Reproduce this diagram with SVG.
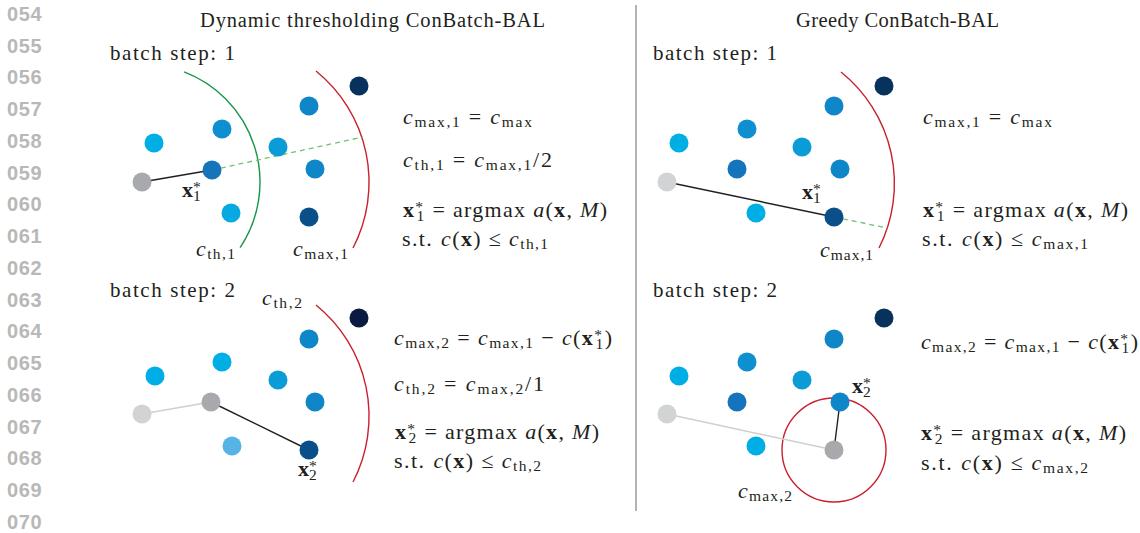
<svg xmlns="http://www.w3.org/2000/svg" width="1140" height="533" viewBox="0 0 1140 533">
<style>
.ln{font-family:"Liberation Sans",Arial,sans-serif;font-weight:bold;font-size:20px;fill:#b8b8b8}
.t{font-family:"Liberation Serif","Times New Roman",serif;font-size:22px;fill:#231f20}
.ti{font-size:20.5px}
.bs{font-size:21px}
.i{font-style:italic}
.b{font-weight:bold}
.s{font-size:15.5px}
.dot{stroke:none}
.red{fill:none;stroke:#c8202f;stroke-width:1.4}
.grn{fill:none;stroke:#17954a;stroke-width:1.4}
.dash{stroke:#6cc46c;stroke-width:1.3;stroke-dasharray:5 4;fill:none}
.blk{stroke:#231f20;stroke-width:1.4}
.lg{stroke:#cfcfcf;stroke-width:1.4}
.div{stroke:#9a9a9a;stroke-width:1.5}
</style>
<rect width="1140" height="533" fill="#ffffff"/>
<g id="line-numbers">
<text class="ln" x="7" y="20.7" textLength="34.5">054</text>
<text class="ln" x="7" y="52.5" textLength="34.5">055</text>
<text class="ln" x="7" y="84.2" textLength="34.5">056</text>
<text class="ln" x="7" y="116" textLength="34.5">057</text>
<text class="ln" x="7" y="147.7" textLength="34.5">058</text>
<text class="ln" x="7" y="179.5" textLength="34.5">059</text>
<text class="ln" x="7" y="211.2" textLength="34.5">060</text>
<text class="ln" x="7" y="243" textLength="34.5">061</text>
<text class="ln" x="7" y="274.7" textLength="34.5">062</text>
<text class="ln" x="7" y="306.5" textLength="34.5">063</text>
<text class="ln" x="7" y="338.2" textLength="34.5">064</text>
<text class="ln" x="7" y="370" textLength="34.5">065</text>
<text class="ln" x="7" y="401.7" textLength="34.5">066</text>
<text class="ln" x="7" y="433.5" textLength="34.5">067</text>
<text class="ln" x="7" y="465.2" textLength="34.5">068</text>
<text class="ln" x="7" y="497" textLength="34.5">069</text>
<text class="ln" x="7" y="528.7" textLength="34.5">070</text>
</g>
<line class="div" x1="636" y1="5" x2="636" y2="511"/>
<g id="titles">
<text class="t ti" x="200" y="27" textLength="345">Dynamic thresholding ConBatch-BAL</text>
<text class="t ti" x="796" y="27" textLength="203">Greedy ConBatch-BAL</text>
<text class="t bs" x="110" y="60" textLength="125">batch step: 1</text>
<text class="t bs" x="653" y="60" textLength="124">batch step: 1</text>
<text class="t bs" x="110" y="297" textLength="125">batch step: 2</text>
<text class="t bs" x="653" y="297" textLength="124">batch step: 2</text>
</g>
<g id="cost-boundaries">
<path class="grn" d="M184.1,71.8 A118,118 0 0 1 240.1,247.6"/>
<path class="red" d="M316,71 A143,143 0 0 1 353,248"/>
<path class="red" d="M316,305 A143,143 0 0 1 353,482"/>
<path class="red" d="M841,72 A143,143 0 0 1 879,248"/>
<circle class="red" cx="834" cy="450" r="52"/>
</g>
<g id="connectors">
<line class="dash" x1="212" y1="170" x2="363" y2="137"/>
<line class="blk" x1="142" y1="182" x2="212" y2="170"/>
<line class="lg" x1="142" y1="414" x2="211" y2="402"/>
<line class="blk" x1="211" y1="402" x2="309" y2="450"/>
<line class="dash" x1="834" y1="217" x2="887" y2="228"/>
<line class="blk" x1="667" y1="182" x2="834" y2="217"/>
<line class="lg" x1="667" y1="414" x2="834" y2="450"/>
<line class="blk" x1="834" y1="450" x2="840" y2="402"/>
</g>
<g id="panel-dynamic-step1">
<circle id="tl-start" class="dot" cx="142" cy="182" r="9.5" fill="#a7a9ac"/>
<circle id="tl-p1" class="dot" cx="154" cy="143" r="9.5" fill="#00aee6"/>
<circle id="tl-p2" class="dot" cx="222" cy="129" r="9.5" fill="#0e8fcf"/>
<circle id="tl-x1" class="dot" cx="212" cy="170" r="9.5" fill="#1574bb"/>
<circle id="tl-p4" class="dot" cx="231" cy="213" r="9.5" fill="#06a9e2"/>
<circle id="tl-p5" class="dot" cx="278" cy="147" r="9.5" fill="#0b9bd6"/>
<circle id="tl-p6" class="dot" cx="309" cy="106" r="9.5" fill="#0e86c8"/>
<circle id="tl-p7" class="dot" cx="315" cy="169" r="9.5" fill="#0e86c8"/>
<circle id="tl-p8" class="dot" cx="309" cy="217" r="9.5" fill="#0b4f8a"/>
<circle id="tl-p9" class="dot" cx="359" cy="86" r="9.5" fill="#07325e"/>
</g>
<g id="panel-dynamic-step2">
<circle id="bl-start" class="dot" cx="142" cy="414" r="9.5" fill="#d1d3d4"/>
<circle id="bl-x1" class="dot" cx="211" cy="402" r="9.5" fill="#a7a9ac"/>
<circle id="bl-p1" class="dot" cx="155" cy="376" r="9.5" fill="#00aee6"/>
<circle id="bl-p2" class="dot" cx="222" cy="362" r="9.5" fill="#00aee6"/>
<circle id="bl-p5" class="dot" cx="278" cy="380" r="9.5" fill="#0b9bd6"/>
<circle id="bl-p6" class="dot" cx="309" cy="339" r="9.5" fill="#0e86c8"/>
<circle id="bl-p7" class="dot" cx="315" cy="402" r="9.5" fill="#0e86c8"/>
<circle id="bl-p4" class="dot" cx="232" cy="446" r="9.5" fill="#55b3e6"/>
<circle id="bl-x2" class="dot" cx="309" cy="450" r="9.5" fill="#0b4f8a"/>
<circle id="bl-p9" class="dot" cx="359" cy="318" r="9.5" fill="#0a1a40"/>
</g>
<g id="panel-greedy-step1">
<circle id="tr-start" class="dot" cx="667" cy="182" r="9.5" fill="#d1d3d4"/>
<circle id="tr-p1" class="dot" cx="679" cy="143" r="9.5" fill="#00aee6"/>
<circle id="tr-p2" class="dot" cx="747" cy="129" r="9.5" fill="#0e8fcf"/>
<circle id="tr-p3" class="dot" cx="737" cy="169" r="9.5" fill="#1574bb"/>
<circle id="tr-p4" class="dot" cx="756" cy="213" r="9.5" fill="#00aee6"/>
<circle id="tr-p5" class="dot" cx="802" cy="147" r="9.5" fill="#0b9bd6"/>
<circle id="tr-p6" class="dot" cx="834" cy="106" r="9.5" fill="#0e86c8"/>
<circle id="tr-p7" class="dot" cx="840" cy="169" r="9.5" fill="#0e86c8"/>
<circle id="tr-x1" class="dot" cx="834" cy="217" r="9.5" fill="#0b4f8a"/>
<circle id="tr-p9" class="dot" cx="884" cy="86" r="9.5" fill="#07325e"/>
</g>
<g id="panel-greedy-step2">
<circle id="br-start" class="dot" cx="667" cy="414" r="9.5" fill="#d1d3d4"/>
<circle id="br-p1" class="dot" cx="679" cy="376" r="9.5" fill="#00aee6"/>
<circle id="br-p2" class="dot" cx="747" cy="362" r="9.5" fill="#0e8fcf"/>
<circle id="br-p3" class="dot" cx="737" cy="402" r="9.5" fill="#1574bb"/>
<circle id="br-p4" class="dot" cx="756" cy="446" r="9.5" fill="#00aee6"/>
<circle id="br-p5" class="dot" cx="802" cy="380" r="9.5" fill="#0b9bd6"/>
<circle id="br-p6" class="dot" cx="834" cy="339" r="9.5" fill="#0e86c8"/>
<circle id="br-x2" class="dot" cx="840" cy="402" r="9.5" fill="#0e86c8"/>
<circle id="br-x1" class="dot" cx="834" cy="450" r="9.5" fill="#a7a9ac"/>
<circle id="br-p9" class="dot" cx="884" cy="318" r="9.5" fill="#07325e"/>
</g>
<g id="labels">
<text class="t" x="182" y="197"><tspan class="b">x</tspan><tspan class="s" dy="-5">*</tspan><tspan class="s" dx="-7.8" dy="9">1</tspan></text>
<text class="t" x="196" y="256" textLength="39"><tspan class="i">c</tspan><tspan class="s" dy="3">th,1</tspan></text>
<text class="t" x="293" y="256" textLength="55"><tspan class="i">c</tspan><tspan class="s" dy="3">max,1</tspan></text>
<text class="t" x="262" y="305" textLength="40"><tspan class="i">c</tspan><tspan class="s" dy="3">th,2</tspan></text>
<text class="t" x="298" y="476"><tspan class="b">x</tspan><tspan class="s" dy="-5">*</tspan><tspan class="s" dx="-7.8" dy="9">2</tspan></text>
<text class="t" x="802" y="199"><tspan class="b">x</tspan><tspan class="s" dy="-5">*</tspan><tspan class="s" dx="-7.8" dy="9">1</tspan></text>
<text class="t" x="820" y="257" textLength="53"><tspan class="i">c</tspan><tspan class="s" dy="3">max,1</tspan></text>
<text class="t" x="852" y="393"><tspan class="b">x</tspan><tspan class="s" dy="-5">*</tspan><tspan class="s" dx="-7.8" dy="9">2</tspan></text>
<text class="t" x="738" y="498" textLength="54"><tspan class="i">c</tspan><tspan class="s" dy="3">max,2</tspan></text>
</g>
<g id="equations-dynamic">
<text class="t" x="403" y="124" textLength="129"><tspan class="i">c</tspan><tspan class="s" dy="3">max,1</tspan><tspan dy="-3"> = </tspan><tspan class="i">c</tspan><tspan class="s" dy="3">max</tspan></text>
<text class="t" x="403" y="167" textLength="149"><tspan class="i">c</tspan><tspan class="s" dy="3">th,1</tspan><tspan dy="-3"> = </tspan><tspan class="i">c</tspan><tspan class="s" dy="3">max,1</tspan><tspan dy="-3">/2</tspan></text>
<text class="t" x="403" y="217" textLength="204"><tspan class="b">x</tspan><tspan class="s" dy="-5">*</tspan><tspan class="s" dx="-7.8" dy="9">1</tspan><tspan dy="-4"> = argmax </tspan><tspan class="i">a</tspan>(<tspan class="b">x</tspan>, <tspan class="i">M</tspan>)</text>
<text class="t" x="402" y="246" textLength="146"><tspan>s.t.</tspan><tspan class="i" dx="8">c</tspan>(<tspan class="b">x</tspan>) ≤ <tspan class="i">c</tspan><tspan class="s" dy="3">th,1</tspan></text>
<text class="t" x="394" y="345" textLength="218"><tspan class="i">c</tspan><tspan class="s" dy="3">max,2</tspan><tspan dy="-3"> = </tspan><tspan class="i">c</tspan><tspan class="s" dy="3">max,1</tspan><tspan dy="-3"> − </tspan><tspan class="i">c</tspan>(<tspan class="b">x</tspan><tspan class="s" dy="-5">*</tspan><tspan class="s" dx="-7.8" dy="9">1</tspan><tspan dy="-4">)</tspan></text>
<text class="t" x="394" y="391" textLength="150"><tspan class="i">c</tspan><tspan class="s" dy="3">th,2</tspan><tspan dy="-3"> = </tspan><tspan class="i">c</tspan><tspan class="s" dy="3">max,2</tspan><tspan dy="-3">/1</tspan></text>
<text class="t" x="395" y="439" textLength="204"><tspan class="b">x</tspan><tspan class="s" dy="-5">*</tspan><tspan class="s" dx="-7.8" dy="9">2</tspan><tspan dy="-4"> = argmax </tspan><tspan class="i">a</tspan>(<tspan class="b">x</tspan>, <tspan class="i">M</tspan>)</text>
<text class="t" x="394" y="468" textLength="147"><tspan>s.t.</tspan><tspan class="i" dx="8">c</tspan>(<tspan class="b">x</tspan>) ≤ <tspan class="i">c</tspan><tspan class="s" dy="3">th,2</tspan></text>
</g>
<g id="equations-greedy">
<text class="t" x="923" y="124" textLength="129"><tspan class="i">c</tspan><tspan class="s" dy="3">max,1</tspan><tspan dy="-3"> = </tspan><tspan class="i">c</tspan><tspan class="s" dy="3">max</tspan></text>
<text class="t" x="923" y="217" textLength="205"><tspan class="b">x</tspan><tspan class="s" dy="-5">*</tspan><tspan class="s" dx="-7.8" dy="9">1</tspan><tspan dy="-4"> = argmax </tspan><tspan class="i">a</tspan>(<tspan class="b">x</tspan>, <tspan class="i">M</tspan>)</text>
<text class="t" x="922" y="246" textLength="166"><tspan>s.t.</tspan><tspan class="i" dx="8">c</tspan>(<tspan class="b">x</tspan>) ≤ <tspan class="i">c</tspan><tspan class="s" dy="3">max,1</tspan></text>
<text class="t" x="921" y="349" textLength="217"><tspan class="i">c</tspan><tspan class="s" dy="3">max,2</tspan><tspan dy="-3"> = </tspan><tspan class="i">c</tspan><tspan class="s" dy="3">max,1</tspan><tspan dy="-3"> − </tspan><tspan class="i">c</tspan>(<tspan class="b">x</tspan><tspan class="s" dy="-5">*</tspan><tspan class="s" dx="-7.8" dy="9">1</tspan><tspan dy="-4">)</tspan></text>
<text class="t" x="921" y="440" textLength="205"><tspan class="b">x</tspan><tspan class="s" dy="-5">*</tspan><tspan class="s" dx="-7.8" dy="9">2</tspan><tspan dy="-4"> = argmax </tspan><tspan class="i">a</tspan>(<tspan class="b">x</tspan>, <tspan class="i">M</tspan>)</text>
<text class="t" x="921" y="470" textLength="167"><tspan>s.t.</tspan><tspan class="i" dx="8">c</tspan>(<tspan class="b">x</tspan>) ≤ <tspan class="i">c</tspan><tspan class="s" dy="3">max,2</tspan></text>
</g>
</svg>
